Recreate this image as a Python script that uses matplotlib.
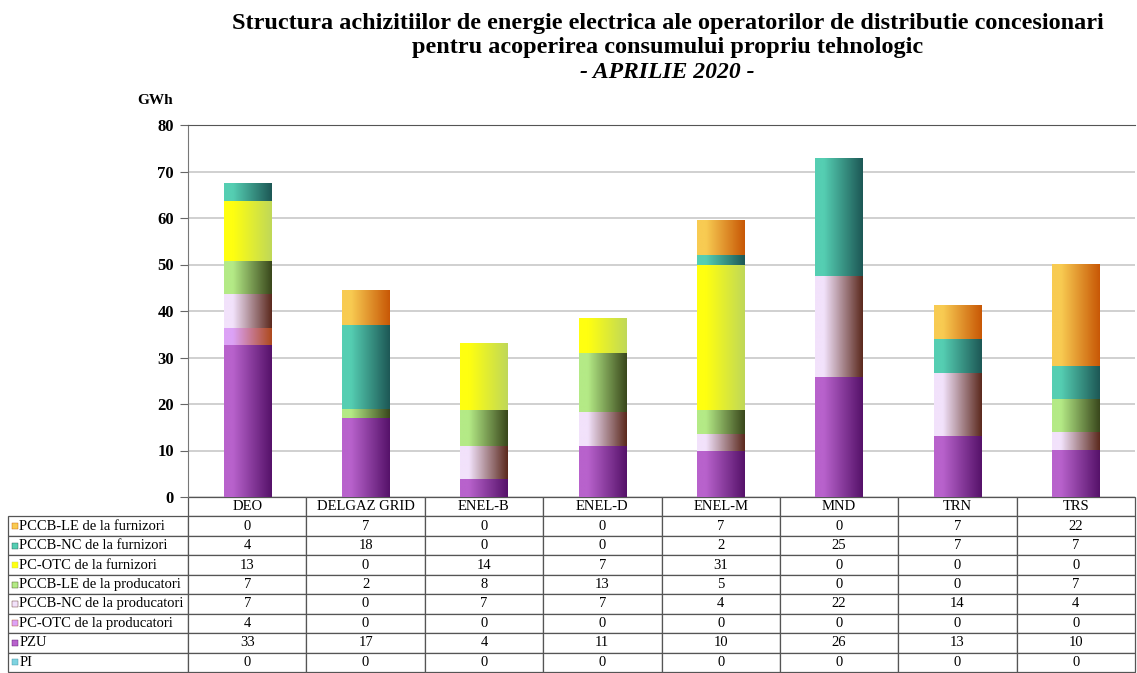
import numpy as np
import matplotlib
matplotlib.use("Agg")
import matplotlib.pyplot as plt
from matplotlib.colors import LinearSegmentedColormap

operators = ["DEO", "DELGAZ GRID", "ENEL-B", "ENEL-D", "ENEL-M", "MND", "TRN", "TRS"]

# series, bottom of the stack first (GWh)
pi_vals = [0, 0, 0, 0, 0, 0, 0, 0]
pzu = [32.7, 17.0, 3.9, 10.9, 9.9, 25.8, 13.1, 10.1]
pc_otc_prod = [3.6, 0, 0, 0, 0, 0, 0, 0]
pccb_nc_prod = [7.3, 0, 7.0, 7.3, 3.6, 21.7, 13.6, 3.9]
pccb_le_prod = [7.1, 1.9, 7.9, 12.8, 5.2, 0, 0, 7.1]
pc_otc_furn = [12.9, 0, 14.4, 7.4, 31.2, 0, 0, 0]
pccb_nc_furn = [3.7, 18.1, 0, 0, 2.1, 25.2, 7.3, 7.1]
pccb_le_furn = [0, 7.4, 0, 0, 7.4, 0, 7.3, 21.9]

series = [
    ("PI", pi_vals, "#7FD3E0", "#3E8FA0"),
    ("PZU", pzu, "#B862CC", "#56126A"),
    ("PC-OTC de la producatori", pc_otc_prod, "#DCA2F6", "#AE4A1E"),
    ("PCCB-NC de la producatori", pccb_nc_prod, "#F2E2FB", "#5C2A1E"),
    ("PCCB-LE de la producatori", pccb_le_prod, "#B4EA86", "#3A481C"),
    ("PC-OTC de la furnizori", pc_otc_furn, "#FFFF10", "#C0D858"),
    ("PCCB-NC de la furnizori", pccb_nc_furn, "#55CEB2", "#1D5856"),
    ("PCCB-LE de la furnizori", pccb_le_furn, "#F8CB52", "#C85806"),
]

serif = "Liberation Serif"

fig = plt.figure(figsize=(11.37, 6.73), dpi=100)
ax = fig.add_axes([188 / 1137, 176 / 673, 947 / 1137, 372 / 673])

x = np.arange(len(operators))
bottom = np.zeros(len(operators))
grad = np.linspace(0, 1, 64).reshape(1, -1)
for name, vals, light, dark in series:
    vals = np.array(vals, dtype=float)
    bars = ax.bar(x, vals, 0.4, bottom=bottom, color="none", linewidth=0)
    cmap = LinearSegmentedColormap.from_list(name, [(0, light), (0.18, light), (1, dark)])
    for b, v in zip(bars, vals):
        if v <= 0:
            continue
        ax.imshow(grad, extent=[b.get_x(), b.get_x() + b.get_width(), b.get_y(), b.get_y() + b.get_height()],
                  cmap=cmap, aspect="auto", zorder=3, interpolation="bilinear")
    bottom += vals

ax.set_xlim(-0.5, len(operators) - 0.5)
ax.set_ylim(0, 80)
ax.set_yticks(np.arange(0, 81, 10))
ax.set_xticks([])
ax.yaxis.grid(True, color="#c8c8c8", linewidth=1.2)
ax.set_axisbelow(True)
for lab in ax.get_yticklabels():
    lab.set_fontfamily(serif)
    lab.set_fontweight("bold")
    lab.set_fontsize(12)
ax.tick_params(axis="y", length=6, color="#666666", pad=4)
ax.spines["right"].set_visible(False)
ax.spines["bottom"].set_visible(False)
ax.spines["top"].set_color("#555555")
ax.spines["left"].set_color("#777777")

# data table underneath
rows = [s for s in series[::-1]]
cell_text = [[""] + operators]
for name, vals, light, dark in rows:
    cell_text.append([name] + [str(int(round(v))) for v in vals])

label_w = 180 / 947
col_w = 1 / len(operators)
tb_x0 = -label_w
tb_y0 = (497 - 672) / 372
tb_h = (672 - 497) / 372
table = ax.table(cellText=cell_text, cellLoc="center",
                 colWidths=[label_w] + [col_w] * len(operators),
                 bbox=[tb_x0, tb_y0, 1 + label_w, tb_h])
table.auto_set_font_size(False)
table.set_fontsize(10.5)
for (r, c), cell in table.get_celld().items():
    cell.set_edgecolor("#555555")
    cell.set_linewidth(0.9)
    cell.get_text().set_fontfamily(serif)
    if r == 0 and c == 0:
        cell.visible_edges = "open"
    if c == 0:
        cell._loc = "left"
        cell.PAD = 0.062
        cell.get_text().set_horizontalalignment("left")

n_rows = len(cell_text)
row_h = tb_h / n_rows
for i, (name, vals, light, dark) in enumerate(rows):
    yc = tb_y0 + tb_h - row_h * (i + 1.5)
    ax.scatter([tb_x0 + 0.0075], [yc], marker="s", s=14, color=light, edgecolors=dark,
               linewidths=0.3, transform=ax.transAxes, clip_on=False, zorder=5)

fig.text(0.587, 1 - 23 / 673, "Structura achizitiilor de energie electrica ale operatorilor de distributie concesionari",
         ha="center", va="center", fontsize=17.5, fontweight="bold", fontfamily=serif)
fig.text(0.587, 1 - 47 / 673, "pentru acoperirea consumului propriu tehnologic",
         ha="center", va="center", fontsize=17.5, fontweight="bold", fontfamily=serif)
fig.text(0.587, 1 - 73 / 673, "- APRILIE 2020 -", ha="center", va="center", fontsize=17,
         fontweight="bold", fontstyle="italic", fontfamily=serif)
fig.text(155 / 1137, 1 - 100 / 673, "GWh", ha="center", va="center", fontsize=11,
         fontweight="bold", fontfamily=serif)

fig.savefig("out.png", dpi=100)
